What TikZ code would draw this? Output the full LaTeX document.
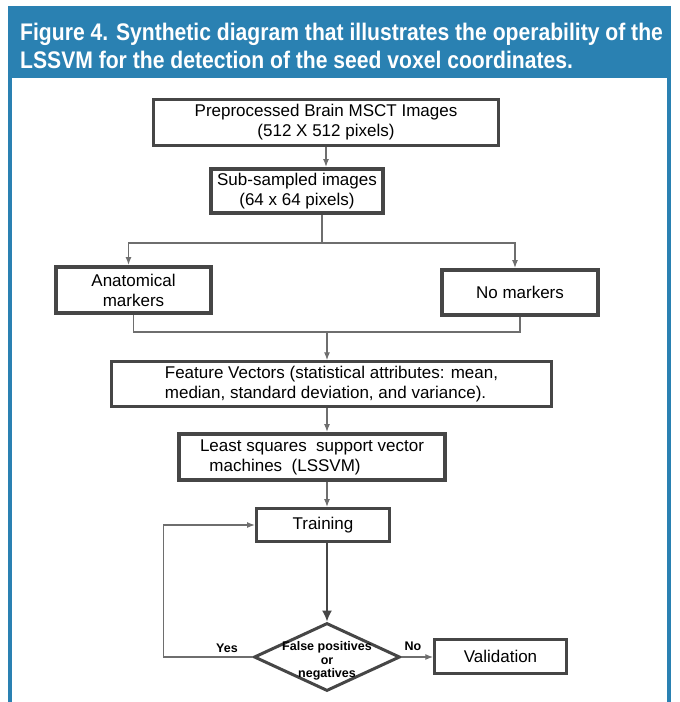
\documentclass[tikz,border=0pt]{standalone}
\usepackage{fontspec}
\setmainfont{Liberation Sans}
\usepackage{graphicx}
\usetikzlibrary{arrows.meta,shapes.geometric}
\definecolor{hdrblue}{RGB}{42,129,178}
\definecolor{edgegray}{RGB}{70,70,70}
\definecolor{linkgray}{RGB}{110,110,110}
\newcommand{\boxfont}{\fontsize{17}{20}\selectfont}
\newcommand{\titlefont}{\fontsize{24}{28}\selectfont\bfseries}
\newcommand{\smallbold}{\fontsize{12.5}{13.5}\selectfont\bfseries}

\tikzset{
  box/.style={draw=edgegray, line width=2.5pt, fill=white, inner sep=2pt, font=\boxfont, align=center},
  thickbox/.style={box, line width=4pt},
  link/.style={draw=linkgray, line width=1.3pt},
  flow/.style={link, -{Latex[length=8pt,width=6pt]}},
}

\begin{document}
\begin{tikzpicture}[x=1pt, y=-1pt]
\useasboundingbox (0,0) rectangle (680,702);
\fill[white] (0,0) rectangle (680,702);

% header and frame
\fill[hdrblue] (8,6) rectangle (671,78);
\fill[hdrblue] (8,78) rectangle (12,702);
\fill[hdrblue] (667,78) rectangle (671,702);
\node[anchor=base west, text=white, inner sep=0, font=\titlefont] (title) at (20,40)
  {\scalebox{0.88}[1]{\begin{tabular}[t]{@{}l@{}}Figure 4. Synthetic diagram that illustrates the operability of the\\
   LSSVM for the detection of the seed voxel coordinates.\end{tabular}}};

% boxes
\node[box, minimum width=345, minimum height=46] (pre) at (326,122.5)
  {Preprocessed Brain MSCT Images\\(512 X 512 pixels)};
\node[thickbox, minimum width=172, minimum height=44] (sub) at (297,191)
  {Sub-sampled images\\(64 x 64 pixels)};
\node[thickbox, minimum width=155, minimum height=46] (anat) at (133.5,290)
  {Anatomical\\markers};
\node[thickbox, minimum width=156, minimum height=45] (nomark) at (520,292.5)
  {No markers};
\node[box, minimum width=440, minimum height=45] (feat) at (331.5,384)
  {\begin{tabular}{@{}l@{}}Feature Vectors (statistical attributes: mean,\\median, standard deviation, and variance).\end{tabular}};
\node[thickbox, minimum width=266, minimum height=46] (lssvm) at (312,457)
  {\begin{tabular}{@{}l@{}}Least squares\ \ support vector\\\ \ machines\ \ (LSSVM)\end{tabular}};
\node[box, line width=3pt, minimum width=133, minimum height=33] (train) at (323,525)
  {Training};
\node[draw=edgegray, line width=3pt, fill=white, diamond, inner sep=0, aspect=2.1,
  minimum width=146, minimum height=68,
  label={[font=\smallbold, align=center, yshift=-4pt]center:False positives\\or\\negatives}] (dec) at (327,657) {};
\node[box, minimum width=132, minimum height=34] (val) at (500.5,656.5)
  {Validation};

% connectors
\coordinate (split) at (322,243);
\coordinate (merge) at (327,332);
\draw[flow] (pre.south) -- (pre.south |- sub.north);
\draw[link] (sub.south -| split) -- (split);
\draw[flow] (split) -| ([xshift=-5pt]anat.north);
\draw[flow] (split) -| ([xshift=-5pt]nomark.north);
\draw[link] (anat.south) |- (merge);
\draw[link] (nomark.south) |- (merge);
\draw[flow] (merge) -- (merge |- feat.north);
\draw[flow] (feat.south -| merge) -- (lssvm.north -| merge);
\draw[flow] (lssvm.south -| merge) -- (train.north -| merge);
\draw[link, draw=edgegray, line width=1.6pt, -{Latex[length=11pt,width=10pt]}] (train.south -| merge) -- (dec.north);
\draw[flow] (dec.east) -- (val.west |- dec.east);
\draw[flow] (dec.west) -- ++(-89,0) |- (train.west);

% branch labels
\node[font=\smallbold] (yes) at (227,648) {Yes};
\node[font=\smallbold] (no) at (413,646) {No};
\end{tikzpicture}
\end{document}
